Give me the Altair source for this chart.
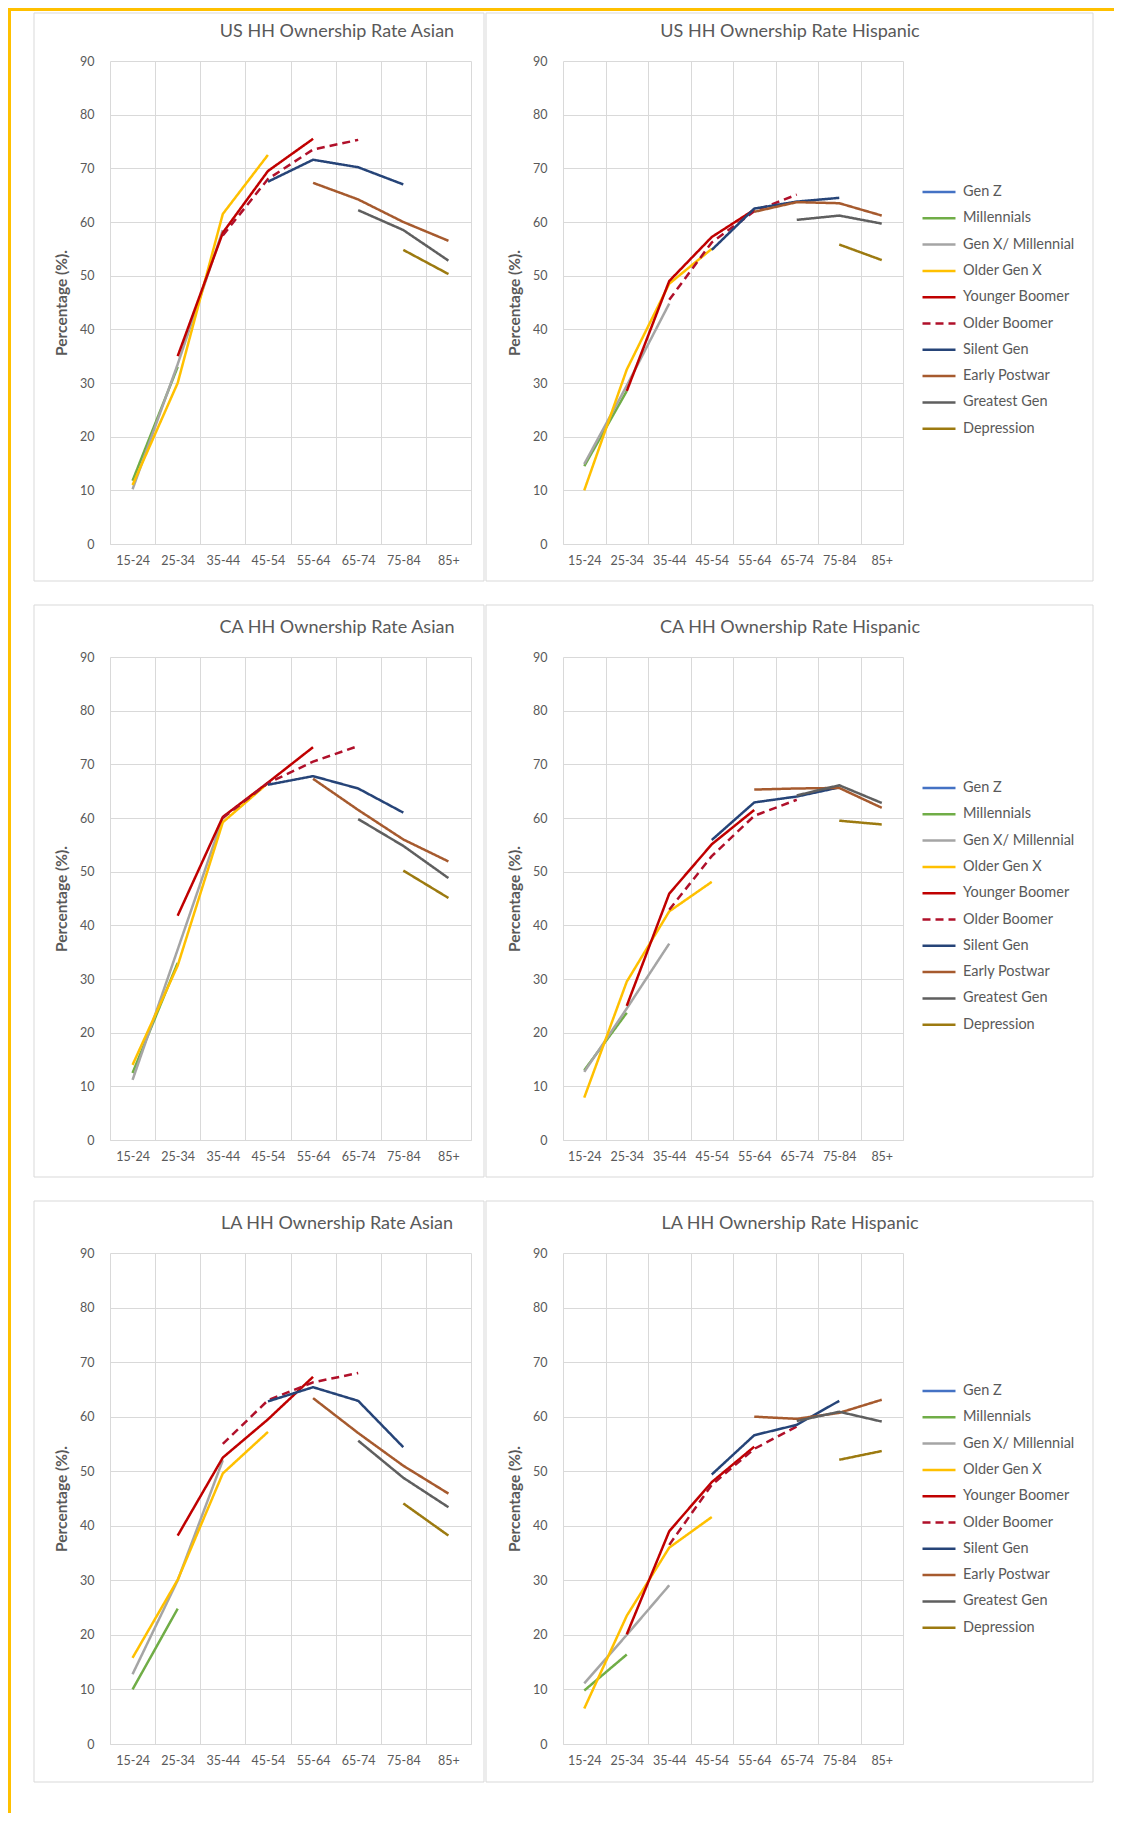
import altair as alt
import pandas as pd

N = None
AGES = ["15-24", "25-34", "35-44", "45-54", "55-64", "65-74", "75-84", "85+"]
SERIES = ["Gen Z", "Millennials", "Gen X/ Millennial", "Older Gen X", "Younger Boomer",
          "Older Boomer", "Silent Gen", "Early Postwar", "Greatest Gen", "Depression"]
COLORS = ["#4472C4", "#70AD47", "#A5A5A5", "#FFC000", "#C00000",
          "#B0102A", "#264478", "#A65A2E", "#5F5F5F", "#9C7A10"]
DASHES = [[1, 0], [1, 0], [1, 0], [1, 0], [1, 0], [8, 5], [1, 0], [1, 0], [1, 0], [1, 0]]

US_ASIAN = {
    "Millennials":       [11.8, 33.0, N, N, N, N, N, N],
    "Gen X/ Millennial": [10.2, 33.5, 58.5, N, N, N, N, N],
    "Older Gen X":       [11.0, 30.0, 61.5, 72.5, N, N, N, N],
    "Younger Boomer":    [N, 35.0, 58.0, 69.5, 75.5, N, N, N],
    "Older Boomer":      [N, N, 57.5, 68.0, 73.5, 75.3, N, N],
    "Silent Gen":        [N, N, N, 67.5, 71.6, 70.2, 67.0, N],
    "Early Postwar":     [N, N, N, N, 67.3, 64.2, 60.0, 56.5],
    "Greatest Gen":      [N, N, N, N, N, 62.2, 58.5, 52.8],
    "Depression":        [N, N, N, N, N, N, 54.8, 50.3],
}
US_HISPANIC = {
    "Millennials":       [14.5, 28.5, N, N, N, N, N, N],
    "Gen X/ Millennial": [14.9, 29.5, 44.8, N, N, N, N, N],
    "Older Gen X":       [10.0, 32.5, 48.5, 55.0, N, N, N, N],
    "Younger Boomer":    [N, 28.5, 49.0, 57.2, 62.3, N, N, N],
    "Older Boomer":      [N, N, 45.5, 56.2, 62.0, 65.1, N, N],
    "Silent Gen":        [N, N, N, 54.8, 62.5, 63.8, 64.5, N],
    "Early Postwar":     [N, N, N, N, 61.9, 63.7, 63.5, 61.2],
    "Greatest Gen":      [N, N, N, N, N, 60.4, 61.2, 59.7],
    "Depression":        [N, N, N, N, N, N, 55.8, 52.9],
}
CA_ASIAN = {
    "Millennials":       [12.5, 33.0, N, N, N, N, N, N],
    "Gen X/ Millennial": [11.2, 35.5, 60.0, N, N, N, N, N],
    "Older Gen X":       [14.0, 32.5, 59.2, 66.5, N, N, N, N],
    "Younger Boomer":    [N, 41.8, 60.2, 66.6, 73.2, N, N, N],
    "Older Boomer":      [N, N, 60.0, 66.5, 70.5, 73.4, N, N],
    "Silent Gen":        [N, N, N, 66.2, 67.8, 65.5, 61.0, N],
    "Early Postwar":     [N, N, N, N, 67.3, 61.5, 56.0, 51.9],
    "Greatest Gen":      [N, N, N, N, N, 59.8, 54.8, 48.8],
    "Depression":        [N, N, N, N, N, N, 50.2, 45.1],
}
CA_HISPANIC = {
    "Millennials":       [13.0, 23.7, N, N, N, N, N, N],
    "Gen X/ Millennial": [12.7, 24.5, 36.6, N, N, N, N, N],
    "Older Gen X":       [7.9, 29.5, 42.6, 48.1, N, N, N, N],
    "Younger Boomer":    [N, 25.0, 45.9, 55.1, 61.5, N, N, N],
    "Older Boomer":      [N, N, 42.9, 52.9, 60.4, 63.4, N, N],
    "Silent Gen":        [N, N, N, 55.9, 62.9, 64.0, 65.7, N],
    "Early Postwar":     [N, N, N, N, 65.3, 65.5, 65.6, 61.9],
    "Greatest Gen":      [N, N, N, N, N, 64.2, 66.1, 62.8],
    "Depression":        [N, N, N, N, N, N, 59.5, 58.8],
}
LA_ASIAN = {
    "Millennials":       [10.0, 24.8, N, N, N, N, N, N],
    "Gen X/ Millennial": [12.8, 30.0, 52.0, N, N, N, N, N],
    "Older Gen X":       [15.8, 30.1, 49.6, 57.2, N, N, N, N],
    "Younger Boomer":    [N, 38.2, 52.5, 59.5, 67.3, N, N, N],
    "Older Boomer":      [N, N, 55.0, 63.0, 66.3, 68.0, N, N],
    "Silent Gen":        [N, N, N, 62.8, 65.4, 62.9, 54.4, N],
    "Early Postwar":     [N, N, N, N, 63.4, 57.0, 51.0, 45.9],
    "Greatest Gen":      [N, N, N, N, N, 55.6, 48.8, 43.4],
    "Depression":        [N, N, N, N, N, N, 44.1, 38.2],
}
LA_HISPANIC = {
    "Millennials":       [9.8, 16.4, N, N, N, N, N, N],
    "Gen X/ Millennial": [11.1, 20.0, 29.1, N, N, N, N, N],
    "Older Gen X":       [6.5, 23.5, 36.0, 41.6, N, N, N, N],
    "Younger Boomer":    [N, 20.1, 39.0, 48.0, 54.5, N, N, N],
    "Older Boomer":      [N, N, 36.5, 47.5, 54.1, 58.2, N, N],
    "Silent Gen":        [N, N, N, 49.4, 56.6, 58.5, 62.9, N],
    "Early Postwar":     [N, N, N, N, 60.0, 59.6, 60.7, 63.1],
    "Greatest Gen":      [N, N, N, N, N, 59.2, 60.9, 59.1],
    "Depression":        [N, N, N, N, N, N, 52.1, 53.7],
}

FONT = "Lato"
TXT = "#595959"
GRID = "#D9D9D9"
ORANGE = "#FFC000"


def to_df(d):
    rows = []
    for s, vals in d.items():
        for i, v in enumerate(vals):
            if v is not None:
                rows.append({"series": s, "age": AGES[i], "idx": i, "value": v})
    return pd.DataFrame(rows)


def panel(title, data, w, h, frame, legend_y=None):
    fx1, fy1, fx2, fy2 = frame
    one = pd.DataFrame({"t": [title]})
    frame_layer = alt.Chart(one).mark_rect(
        fill="transparent", stroke=GRID, strokeWidth=1
    ).encode(x=alt.value(fx1), x2=alt.value(fx2), y=alt.value(fy1), y2=alt.value(fy2))
    title_layer = alt.Chart(one).mark_text(
        font=FONT, fontSize=18, color=TXT, align="center", baseline="middle"
    ).encode(x=alt.value(227), y=alt.value(-29), text="t:N")

    if legend_y is not None:
        leg = alt.Legend(orient="none", legendX=358, legendY=legend_y, title=None,
                         symbolType="stroke", symbolSize=1089, symbolStrokeWidth=2.5,
                         labelFont=FONT, labelFontSize=14.5, labelColor=TXT,
                         labelOffset=6, rowPadding=1.3, padding=0)
    else:
        leg = None

    lines = alt.Chart(to_df(data)).mark_line(strokeWidth=2.5, strokeJoin="round").encode(
        x=alt.X("age:N", sort=AGES, title=None,
                scale=alt.Scale(type="band", domain=AGES, paddingInner=0, paddingOuter=0),
                bandPosition=0.5,
                axis=alt.Axis(tickBand="extent", grid=True, labelAngle=0, labelFontSize=12.5,
                              labelPadding=10, domain=True)),
        y=alt.Y("value:Q", scale=alt.Scale(domain=[0, 90], nice=False),
                axis=alt.Axis(values=list(range(0, 91, 10)), grid=True, domain=False,
                              labelFontSize=12.5, labelPadding=16,
                              title="Percentage (%).", titleFontWeight="bold",
                              titleFontSize=15.5, titlePadding=10)),
        color=alt.Color("series:N", scale=alt.Scale(domain=SERIES, range=COLORS), legend=leg),
        strokeDash=alt.StrokeDash("series:N", scale=alt.Scale(domain=SERIES, range=DASHES), legend=leg),
        order=alt.Order("idx:Q"),
    )
    return alt.layer(frame_layer, title_layer, lines).properties(width=w, height=h)


def row(left, right):
    return alt.hconcat(left, right, spacing=0).resolve_scale(
        color="independent", strokeDash="independent")


r1 = row(panel("US HH Ownership Rate Asian", US_ASIAN, 361, 483, (-76, -48, 374, 520)),
         panel("US HH Ownership Rate Hispanic", US_HISPANIC, 340, 483, (-77, -48, 530, 520), 113))
r2 = row(panel("CA HH Ownership Rate Asian", CA_ASIAN, 361, 483, (-76, -52, 374, 520)),
         panel("CA HH Ownership Rate Hispanic", CA_HISPANIC, 340, 483, (-77, -52, 530, 520), 113))
r3 = row(panel("LA HH Ownership Rate Asian", LA_ASIAN, 361, 491, (-76, -52, 374, 529)),
         panel("LA HH Ownership Rate Hispanic", LA_HISPANIC, 340, 491, (-77, -52, 530, 529), 120))

grid = alt.vconcat(r1, r2, r3, spacing=22).resolve_scale(
    color="independent", strokeDash="independent")

one = pd.DataFrame({"k": [0]})
top_strip = alt.Chart(one).mark_rect(color=ORANGE).encode(
    x=alt.value(0), x2=alt.value(1106), y=alt.value(0), y2=alt.value(3)
).properties(width=1106, height=3)
left_strip = alt.Chart(one).mark_rect(color=ORANGE).encode(
    x=alt.value(0), x2=alt.value(3), y=alt.value(-50), y2=alt.value(1752)
).properties(width=3, height=1700)

body = alt.hconcat(left_strip, grid, spacing=22).resolve_scale(
    color="independent", strokeDash="independent")

chart = alt.vconcat(top_strip, body, spacing=0).resolve_scale(
    color="independent", strokeDash="independent"
).properties(padding=0, background="white").configure_view(stroke=None).configure_axis(
    labelFont=FONT, titleFont=FONT, labelColor=TXT, titleColor=TXT,
    gridColor=GRID, gridWidth=1, domainColor=GRID, ticks=False
)

chart.save("out.html", embed_options={"renderer": "svg", "actions": False})
